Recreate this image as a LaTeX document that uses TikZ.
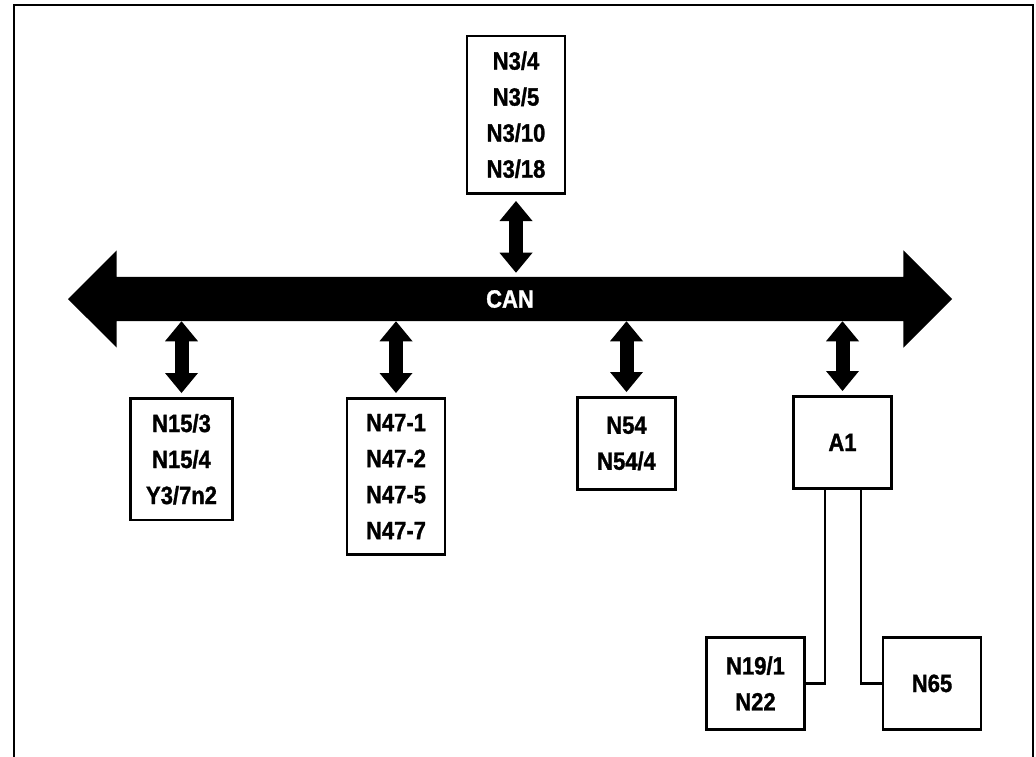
\documentclass[tikz,border=0pt]{standalone}
\usepackage{fontspec}
\setmainfont{Liberation Sans}[FakeStretch=0.88,BoldFeatures={FakeBold=1.2}]
\usepackage{tikz}
\usetikzlibrary{arrows.meta,calc,positioning,shapes.arrows}
\newcommand{\modulfont}{\fontsize{25}{36}\selectfont\bfseries}
\tikzset{
  modul/.style={
    draw,
    line width=2.8pt,
    align=center,
    minimum width=98pt,
    minimum height=92pt,
    inner sep=15.5pt,
    font=\modulfont
  },
  bus/.style={
    double arrow,
    fill=black,
    minimum height=884pt,
    minimum width=97pt,
    double arrow head extend=26.5pt,
    inner xsep=0pt,
    inner ysep=13pt,
    text=white,
    font=\modulfont
  },
  link/.style={
    line width=14pt,
    {Triangle[width=33pt,length=20pt,line width=0pt]}-{Triangle[width=33pt,length=20pt,line width=0pt]}
  },
  wire/.style={
    line width=2.5pt
  }
}

\begin{document}
\begin{tikzpicture}[x=1pt,y=-1pt]
\useasboundingbox (0,0) rectangle (1036,757);
\draw[line width=2.2pt] (14,757) |- (1033,5) -- (1033,757);
% CAN bus
\node[bus] (can) at (510,299) {CAN};
% modules
\node[modul, anchor=south] (n3) at (516,195) {N3/4\\N3/5\\N3/10\\N3/18};
\node[modul, anchor=north] (n15) at (181.5,397) {N15/3\\N15/4\\Y3/7n2};
\node[modul, anchor=north] (n47) at (396,397) {N47-1\\N47-2\\N47-5\\N47-7};
\node[modul, anchor=north] (n54) at (626.5,396) {N54\\N54/4};
\node[modul, anchor=north] (a1) at (842.5,395) {A1};
\node[modul, anchor=north] (n19) at (755.5,636) {N19/1\\N22};
\node[modul, anchor=north] (n65) at (932,636) {N65};
% links to the bus
\draw[link, shorten <=6pt, shorten >=4pt] (n3.south) -- (n3.south |- can.north);
\draw[link, shorten <=4pt] (n15.north) -- (n15.north |- can.south);
\draw[link, shorten <=4pt] (n47.north) -- (n47.north |- can.south);
\draw[link, shorten <=4pt] (n54.north) -- (n54.north |- can.south);
\draw[link, shorten <=4pt] (a1.north) -- (a1.north |- can.south);
% A1 wiring
\draw[wire] ([xshift=-17.5pt]a1.south) |- (n19.east);
\draw[wire] ([xshift=18.5pt]a1.south) |- (n65.west);
\end{tikzpicture}
\end{document}
